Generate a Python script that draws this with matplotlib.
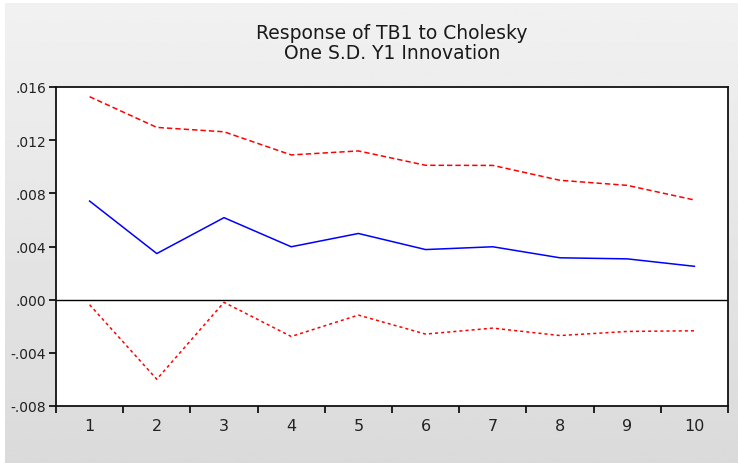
import numpy as np
import matplotlib
matplotlib.use("Agg")
import matplotlib.pyplot as plt
from matplotlib.patches import Rectangle

periods = [1, 2, 3, 4, 5, 6, 7, 8, 9, 10]
response = [0.00742, 0.00347, 0.00617, 0.00398, 0.00498, 0.00377, 0.00398, 0.00315, 0.00307, 0.00251]
upper = [0.01527, 0.01296, 0.01263, 0.01089, 0.01119, 0.01011, 0.01010, 0.00898, 0.00860, 0.00750]
lower = [-0.00038, -0.00599, -0.00020, -0.00277, -0.00116, -0.00259, -0.00214, -0.00270, -0.00239, -0.00234]
yticks = [-0.008, -0.004, 0.0, 0.004, 0.008, 0.012, 0.016]
ytick_labels = ["-.008", "-.004", ".000", ".004", ".008", ".012", ".016"]
title = "Response of TB1 to Cholesky\nOne S.D. Y1 Innovation"

plt.rcParams['font.family'] = ['DejaVu Sans']

fig = plt.figure(figsize=(7.38, 4.64), dpi=100)
fig.patch.set_facecolor("white")

# grey gradient panel behind the chart
bg = fig.add_axes([5 / 738, 0, 1 - 5 / 738, 1 - 4 / 464])
grad = np.linspace(0.945, 0.855, 256).reshape(-1, 1)
bg.imshow(grad, aspect="auto", cmap="gray", vmin=0, vmax=1, extent=[0, 1, 0, 1])
bg.set_axis_off()

ax = fig.add_axes([56 / 738, 1 - 407 / 464, 672 / 738, 319 / 464])
ax.set_facecolor("white")

ax.plot(periods, upper, color="#ff0000", lw=1.1, linestyle=(0, (3.5, 2)))
ax.plot(periods, lower, color="#ff0000", lw=1.1, linestyle=(0, (2, 2)))
ax.plot(periods, response, color="#0000ff", lw=1.1)
ax.axhline(0, color="black", lw=1.0)

ax.set_xlim(0.5, 10.5)
ax.set_ylim(-0.008, 0.016)

ax.set_xticks(np.arange(0.5, 11, 1))
ax.set_xticklabels([])
ax.set_xticks(periods, minor=True)
ax.set_xticklabels([str(p) for p in periods], minor=True)
ax.tick_params(axis="x", which="major", direction="out", length=5, width=1.2)
ax.tick_params(axis="x", which="minor", length=0, pad=8.5, labelsize=11.5, labelcolor="#222222")

ax.set_yticks(yticks)
ax.set_yticklabels(ytick_labels)
ax.tick_params(axis="y", direction="out", length=5, width=1.2, pad=2, labelsize=10, labelcolor="#222222")

for s in ax.spines.values():
    s.set_linewidth(1.3)
    s.set_color("#111111")

ax.set_title(title, fontsize=13.5, color="#1a1a1a", pad=21, linespacing=1.05)

# white margin at the left edge, as in the cropped original
fig.patches.append(Rectangle((0, 0), 4 / 738, 1, transform=fig.transFigure,
                             facecolor="white", edgecolor="none", zorder=10))

fig.savefig("out.png", dpi=100)
